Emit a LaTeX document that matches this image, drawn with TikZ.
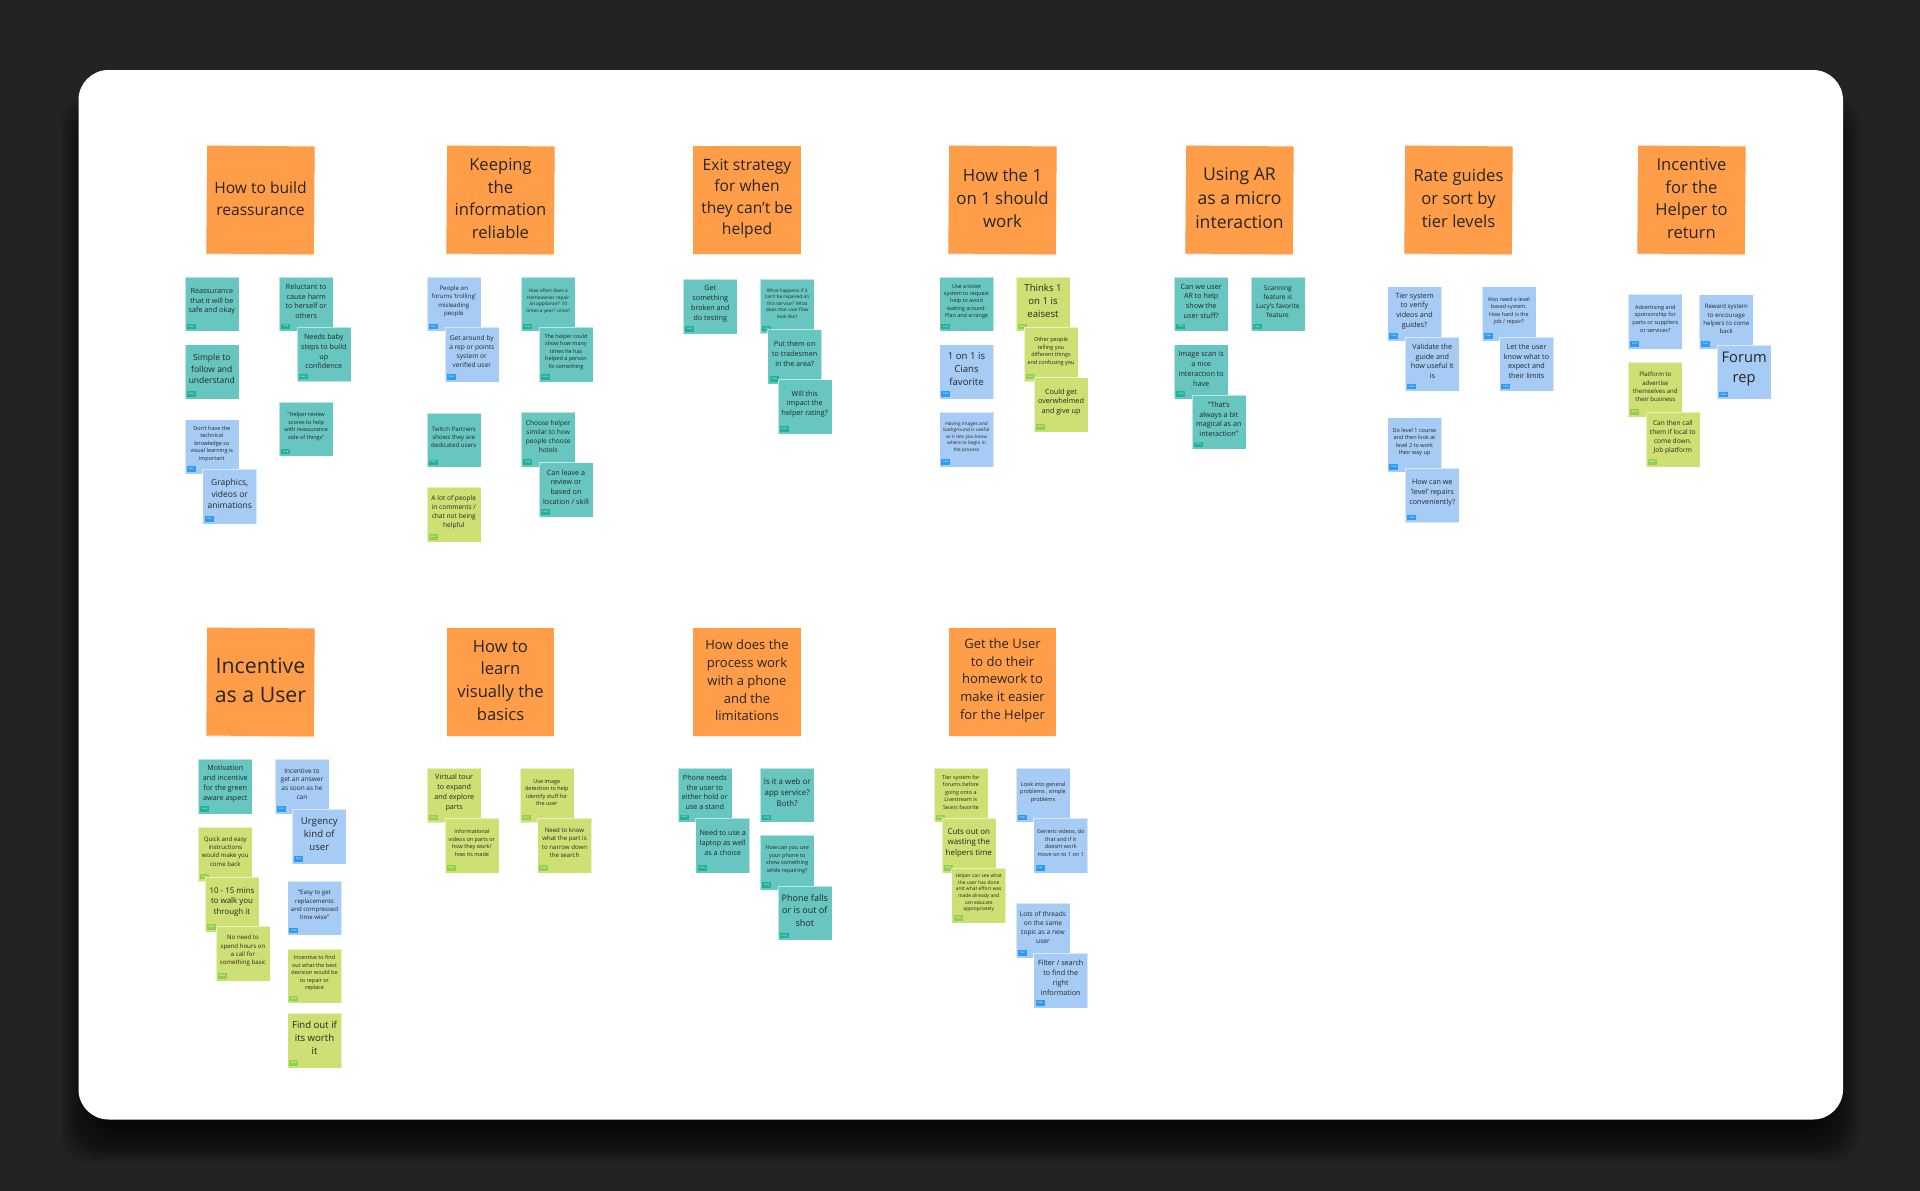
\documentclass[tikz,border=0pt]{standalone}
\usepackage{fontspec}
\setmainfont{Open Sans}
\usepackage{tikz}
\usetikzlibrary{shadows}

\definecolor{boardbg}{HTML}{232323}
\definecolor{titlefill}{HTML}{FF9D48}
\definecolor{lucyfill}{HTML}{67C6C0}
\definecolor{lucytag}{HTML}{1FB394}
\definecolor{cianfill}{HTML}{A6CCF5}
\definecolor{ciantag}{HTML}{2D9BF0}
\definecolor{seanfill}{HTML}{CEE073}
\definecolor{seantag}{HTML}{8FD14F}
\definecolor{inktext}{HTML}{262626}

\newcommand{\fs}[2]{\fontsize{#1}{#2}\selectfont}

\tikzset{
    topic/.style={minimum width=107.5pt, minimum height=108pt, inner sep=0pt, fill=titlefill,
        drop shadow={shadow xshift=0pt, shadow yshift=-1.2pt, opacity=.15}},
    topictext/.style={align=center, yshift=1.5pt, text=inktext},
    tilted/.style={rotate=-0.5},
    note/.style={minimum width=54pt, minimum height=54.5pt, inner sep=0pt, draw=white, draw opacity=.55, line width=.5pt},
    tagbox/.style={anchor=south west, xshift=2pt, yshift=2.3pt, minimum width=9pt, minimum height=5.5pt,
        inner sep=0pt, text=white, font=\fs{2.6}{3}},
    notetext/.style={align=center, yshift=2.8pt, text=inktext},
    lucy/.style={note, fill=lucyfill, label={[tagbox, fill=lucytag]south west:Lucy}},
    cian/.style={note, fill=cianfill, label={[tagbox, fill=ciantag]south west:Cian}},
    sean/.style={note, fill=seanfill, label={[tagbox, fill=seantag]south west:Sean}},
}

\begin{document}
\begin{tikzpicture}[x=1pt, y=-1pt]
    \useasboundingbox (0,0) rectangle (1920,1191);
    \fill [boardbg] (0,0) rectangle (1920,1191);
    % Soft shadow under the board
    \foreach \grow in {36,34,...,0} {
        \fill [black, opacity=.05, rounded corners=30pt] (96-\grow,130-\grow) rectangle (1825+\grow,1128+\grow);
    }
    \fill [white, rounded corners=30pt] (78.5,70) rectangle (1843,1119.5);

    % Row one topics
    \node (tReassure) [topic, tilted, label={[topictext, font=\fs{15.6}{21.3}]center:{How to build\\reassurance}}] at (260.5,200) {};
    \node (tReliable) [topic, tilted, label={[topictext, font=\fs{16.6}{22.8}]center:{Keeping\\the\\information\\reliable}}] at (500.5,200) {};
    \node (tExit) [topic, label={[topictext, font=\fs{15.6}{21.3}]center:{Exit strategy\\for when\\they can't be\\helped}}] at (747,200) {};
    \node (tOneOnOne) [topic, tilted, label={[topictext, font=\fs{16.8}{23}]center:{How the 1\\on 1 should\\work}}] at (1002.5,200) {};
    \node (tMicro) [topic, tilted, label={[topictext, font=\fs{17.6}{24}]center:{Using AR\\as a micro\\interaction}}] at (1239.5,200) {};
    \node (tTiers) [topic, tilted, label={[topictext, font=\fs{16.6}{22.8}]center:{Rate guides\\or sort by\\tier levels}}] at (1458.5,200) {};
    \node (tHelperBack) [topic, tilted, label={[topictext, font=\fs{16.6}{22.8}]center:{Incentive\\for the\\Helper to\\return}}] at (1691.5,200) {};
    % Row two topics
    \node (tUser) [topic, tilted, label={[topictext, font=\fs{21.3}{29}]center:{Incentive\\as a User}}] at (260.5,682) {};
    \node (tVisual) [topic, label={[topictext, font=\fs{16.6}{22.8}]center:{How to\\learn\\visually the\\basics}}] at (500.5,682) {};
    \node (tPhone) [topic, label={[topictext, font=\fs{13}{17.7}]center:{How does the\\process work\\with a phone\\and the\\limitations}}] at (747,682) {};
    \node (tHomework) [topic, label={[topictext, font=\fs{13}{17.7}]center:{Get the User\\to do their\\homework to\\make it easier\\for the Helper}}] at (1002.5,682) {};

    % How to build reassurance
    \node (a1) [lucy, label={[notetext, font=\fs{7.2}{9.8}]center:{Reassurance\\that it will be\\safe and okay}}] at (211.8,304.2) {};
    \node (a2) [lucy, label={[notetext, font=\fs{8.5}{11.6}]center:{Simple to\\follow and\\understand}}] at (211.8,371.8) {};
    \node (a3) [cian, label={[notetext, font=\fs{5.5}{7.5}]center:{Don't have the\\technical\\knowledge so\\visual learning is\\important}}] at (211.8,446.8) {};
    \node (a4) [cian, label={[notetext, font=\fs{8.5}{11.6}]center:{Graphics,\\videos or\\animations}}] at (229.7,496.7) {};
    \node (a5) [lucy, label={[notetext, font=\fs{7.2}{9.8}]center:{Reluctant to\\cause harm\\to herself or\\others}}] at (306.2,304) {};
    \node (a6) [lucy, label={[notetext, font=\fs{7.2}{9.8}]center:{Needs baby\\steps to build\\up\\confidence}}] at (323.8,354.3) {};
    \node (a7) [lucy, label={[notetext, font=\fs{5.5}{7.5}]center:{"Helper review\\scores to help\\with reassurance\\side of things"}}] at (306.2,429.2) {};

    % Keeping the information reliable
    \node (b1) [cian, label={[notetext, font=\fs{6.1}{8.3}]center:{People on\\forums 'trolling'\\misleading\\people}}] at (453.8,304.2) {};
    \node (b2) [cian, label={[notetext, font=\fs{6.6}{9}]center:{Get around by\\a rep or points\\system or\\verified user}}] at (471.8,354.5) {};
    \node (b3) [lucy, label={[notetext, font=\fs{4.8}{6.5}]center:{How often does a\\Homeowner repair\\an appliance? 10\\times a year? once?}}] at (548.2,304.2) {};
    \node (b4) [lucy, label={[notetext, font=\fs{5.5}{7.5}]center:{The helper could\\show how many\\times he has\\helped a person\\fix something}}] at (566,354.5) {};
    \node (b5) [lucy, label={[notetext, font=\fs{6.1}{8.3}]center:{Twitch Partners\\shows they are\\dedicated users}}] at (453.8,440) {};
    \node (b6) [lucy, label={[notetext, font=\fs{6.6}{9}]center:{Choose helper\\similar to how\\people choose\\hotels}}] at (548.2,439.5) {};
    \node (b7) [lucy, label={[notetext, font=\fs{7.2}{9.8}]center:{Can leave a\\review or\\based on\\location / skill}}] at (566,489.8) {};
    \node (b8) [sean, label={[notetext, font=\fs{6.6}{9}]center:{A lot of people\\in comments /\\chat not being\\helpful}}] at (453.8,514.7) {};

    % Exit strategy
    \node (c1) [lucy, label={[notetext, font=\fs{7.2}{9.8}]center:{Get\\something\\broken and\\do testing}}] at (710.3,306.7) {};
    \node (c2) [lucy, label={[notetext, font=\fs{4.8}{6.5}]center:{What happens if it\\can't be repaired on\\this service? What\\does that user flow\\look like?}}] at (787.2,306.3) {};
    \node (c3) [lucy, label={[notetext, font=\fs{7.2}{9.8}]center:{Put them on\\to tradesmen\\in the area?}}] at (794.7,356.8) {};
    \node (c4) [lucy, label={[notetext, font=\fs{7.2}{9.8}]center:{Will this\\impact the\\helper rating?}}] at (804.8,406.8) {};

    % How the 1 on 1 should work
    \node (d1) [lucy, label={[notetext, font=\fs{5.4}{7.3}]center:{Use a ticket\\system to request\\help to avoid\\waiting around.\\Plan and arrange}}] at (966.5,304.2) {};
    \node (d2) [cian, label={[notetext, font=\fs{9.6}{13}]center:{1 on 1 is\\Cians\\favorite}}] at (966.5,371.8) {};
    \node (d3) [cian, label={[notetext, font=\fs{4.8}{6.5}]center:{Having images and\\background is useful\\as it lets you know\\where to begin in\\the process}}] at (966.5,439.7) {};
    \node (d4) [sean, label={[notetext, font=\fs{9.6}{13}]center:{Thinks 1\\on 1 is\\eaisest}}] at (1043,304) {};
    \node (d5) [sean, label={[notetext, font=\fs{5.5}{7.5}]center:{Other people\\telling you\\different things\\and confusing you}}] at (1051,354.3) {};
    \node (d6) [sean, label={[notetext, font=\fs{7.2}{9.8}]center:{Could get\\overwhelmed\\and give up}}] at (1061,404.8) {};

    % Using AR
    \node (e1) [lucy, label={[notetext, font=\fs{7.2}{9.8}]center:{Can we user\\AR to help\\show the\\user stuff?}}] at (1201.2,304) {};
    \node (e2) [lucy, label={[notetext, font=\fs{6.6}{9}]center:{Scanning\\feature is\\Lucy's favorite\\feature}}] at (1277.8,304.2) {};
    \node (e3) [lucy, label={[notetext, font=\fs{7.2}{9.8}]center:{Image scan is\\a nice\\interaction to\\have}}] at (1201.2,371.8) {};
    \node (e4) [lucy, label={[notetext, font=\fs{7.2}{9.8}]center:{"That's\\always a bit\\magical as an\\interaction"}}] at (1218.8,422) {};

    % Rate guides
    \node (f1) [cian, label={[notetext, font=\fs{7.2}{9.8}]center:{Tier system\\to verify\\videos and\\guides?}}] at (1414.5,313.8) {};
    \node (f2) [cian, label={[notetext, font=\fs{7.2}{9.8}]center:{Validate the\\guide and\\how useful it\\is}}] at (1432.3,364) {};
    \node (f3) [cian, label={[notetext, font=\fs{5.4}{7.3}]center:{Also need a level\\based system.\\How hard is the\\job / repair?}}] at (1508.8,313.8) {};
    \node (f4) [cian, label={[notetext, font=\fs{7.2}{9.8}]center:{Let the user\\know what to\\expect and\\their limits}}] at (1526.5,364) {};
    \node (f5) [cian, label={[notetext, font=\fs{5.5}{7.5}]center:{Do level 1 course\\and then look at\\level 2 to work\\their way up}}] at (1414.5,444.8) {};
    \node (f6) [cian, label={[notetext, font=\fs{7.2}{9.8}]center:{How can we\\'level' repairs\\conveniently?}}] at (1432.3,495.3) {};

    % Incentive for the Helper
    \node (g1) [cian, label={[notetext, font=\fs{5.6}{7.6}]center:{Advertising and\\sponsorship for\\parts or suppliers\\or services?}}] at (1655.3,321.5) {};
    \node (g2) [cian, label={[notetext, font=\fs{6.1}{8.3}]center:{Reward system\\to encourage\\helpers to come\\back}}] at (1726.3,321.8) {};
    \node (g3) [cian, label={[notetext, font=\fs{14.7}{20}]center:{Forum\\rep}}] at (1744.2,372.2) {};
    \node (g4) [sean, label={[notetext, font=\fs{6.1}{8.3}]center:{Platform to\\advertise\\themselves and\\their business}}] at (1655.3,389.7) {};
    \node (g5) [sean, label={[notetext, font=\fs{6.6}{9}]center:{Can then call\\them if local to\\come down.\\Job platform}}] at (1672.8,439.7) {};

    % Incentive as a User
    \node (h1) [lucy, label={[notetext, font=\fs{7.2}{9.8}]center:{Motivation\\and incentive\\for the green\\aware aspect}}] at (225.3,786.7) {};
    \node (h2) [sean, label={[notetext, font=\fs{6.1}{8.3}]center:{Quick and easy\\instructions\\would make you\\come back}}] at (225.3,854.3) {};
    \node (h3) [sean, label={[notetext, font=\fs{7.9}{10.8}]center:{10 - 15 mins\\to walk you\\through it}}] at (232,904.7) {};
    \node (h4) [sean, label={[notetext, font=\fs{6.1}{8.3}]center:{No need to\\spend hours on\\a call for\\something basic}}] at (243,953.5) {};
    \node (h5) [cian, label={[notetext, font=\fs{6.5}{8.8}]center:{Incentive to\\get an answer\\as soon as he\\can}}] at (302,786.7) {};
    \node (h6) [cian, label={[notetext, font=\fs{9.6}{13}]center:{Urgency\\kind of\\user}}] at (319.3,836.7) {};
    \node (h7) [cian, label={[notetext, font=\fs{6.1}{8.3}]center:{"Easy to get\\replacements\\and compressed\\time wise"}}] at (314.5,908) {};
    \node (h8) [sean, label={[notetext, font=\fs{5.5}{7.5}]center:{Incentive to find\\out what the best\\decision would be\\to repair or\\replace}}] at (314.5,976) {};
    \node (h9) [sean, label={[notetext, font=\fs{9.6}{13}]center:{Find out if\\its worth\\it}}] at (314.5,1040.7) {};

    % How to learn visually
    \node (i1) [sean, label={[notetext, font=\fs{7.2}{9.8}]center:{Virtual tour\\to expand\\and explore\\parts}}] at (454.2,795.3) {};
    \node (i2) [sean, label={[notetext, font=\fs{5.5}{7.5}]center:{Informational\\videos on parts or\\how they work/\\how its made}}] at (471.8,845.5) {};
    \node (i3) [sean, label={[notetext, font=\fs{5.5}{7.5}]center:{Use image\\detection to help\\identify stuff for\\the user}}] at (546.8,795.3) {};
    \node (i4) [sean, label={[notetext, font=\fs{6.1}{8.3}]center:{Need to know\\what the part is\\to narrow down\\the search}}] at (564.5,845.5) {};

    % Process with a phone
    \node (j1) [lucy, label={[notetext, font=\fs{7.2}{9.8}]center:{Phone needs\\the user to\\either hold or\\use a stand}}] at (704.8,795) {};
    \node (j2) [lucy, label={[notetext, font=\fs{7.2}{9.8}]center:{Need to use a\\laptop as well\\as a choice}}] at (722.7,845.5) {};
    \node (j3) [lucy, label={[notetext, font=\fs{7.9}{10.8}]center:{Is it a web or\\app service?\\Both?}}] at (787.2,795.2) {};
    \node (j4) [lucy, label={[notetext, font=\fs{5.5}{7.5}]center:{How can you use\\your phone to\\show something\\while repairing?}}] at (787.2,862.7) {};
    \node (j5) [lucy, label={[notetext, font=\fs{9}{12.3}]center:{Phone falls\\or is out of\\shot}}] at (804.8,913.2) {};

    % User homework
    \node (k1) [sean, label={[notetext, font=\fs{5.4}{7.4}]center:{Tier system for\\forums before\\going onto a\\Livestream is\\Seans favorite}}] at (960.8,795) {};
    \node (k2) [sean, label={[notetext, font=\fs{7.9}{10.8}]center:{Cuts out on\\wasting the\\helpers time}}] at (968.8,845.7) {};
    \node (k3) [sean, label={[notetext, font=\fs{4.9}{6.6}]center:{Helper can see what\\the user has done\\and what effort was\\made already and\\can educate\\appropriately}}] at (978.7,895.7) {};
    \node (k4) [cian, label={[notetext, font=\fs{5.5}{7.5}]center:{Look into general\\problems , simple\\problems}}] at (1043,795) {};
    \node (k5) [cian, label={[notetext, font=\fs{5.5}{7.5}]center:{Generic videos, do\\that and if it\\doesnt work\\move on to 1 on 1}}] at (1060.7,845.5) {};
    \node (k6) [cian, label={[notetext, font=\fs{6.6}{9}]center:{Lots of threads\\on the same\\topic as a new\\user}}] at (1043,930.7) {};
    \node (k7) [cian, label={[notetext, font=\fs{7.2}{9.8}]center:{Filter / search\\to find the\\right\\information}}] at (1060.7,980.7) {};
\end{tikzpicture}
\end{document}
